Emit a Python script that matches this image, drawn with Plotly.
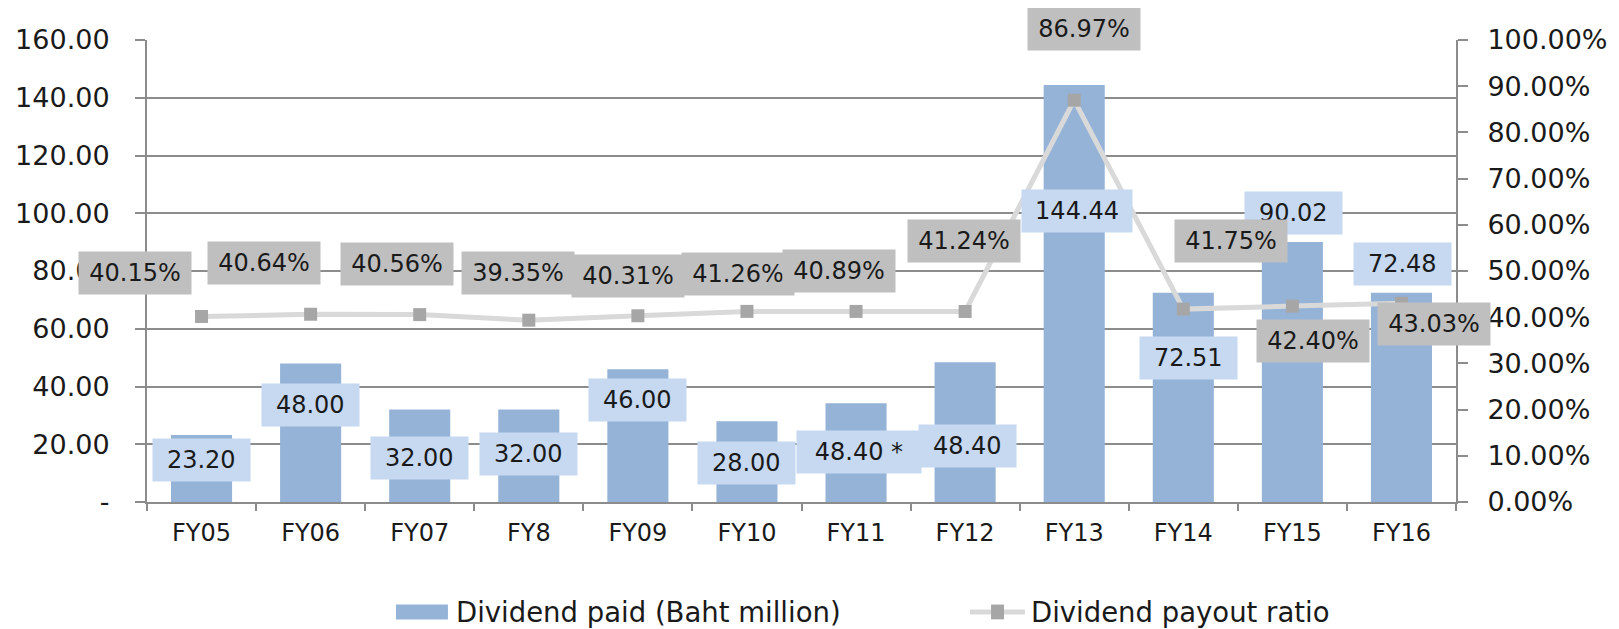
import plotly.graph_objects as go

# ---- data ----
categories = ["FY05", "FY06", "FY07", "FY8", "FY09", "FY10", "FY11", "FY12", "FY13", "FY14", "FY15", "FY16"]
dividend_paid = [23.20, 48.00, 32.00, 32.00, 46.00, 28.00, 34.20, 48.40, 144.44, 72.51, 90.02, 72.48]
dividend_labels = ["23.20", "48.00", "32.00", "32.00", "46.00", "28.00", "48.40 *", "48.40", "144.44", "72.51", "90.02", "72.48"]
payout_ratio = [40.15, 40.64, 40.56, 39.35, 40.31, 41.26, 41.25, 41.24, 86.97, 41.75, 42.40, 43.03]
payout_labels = ["40.15%", "40.64%", "40.56%", "39.35%", "40.31%", "41.26%", "40.89%", "41.24%", "86.97%", "41.75%", "42.40%", "43.03%"]
left_ticks = [0, 20, 40, 60, 80, 100, 120, 140, 160]
left_tick_text = ["-", "20.00", "40.00", "60.00", "80.00", "100.00", "120.00", "140.00", "160.00"]
right_ticks = [0, 10, 20, 30, 40, 50, 60, 70, 80, 90, 100]
right_tick_text = ["0.00%", "10.00%", "20.00%", "30.00%", "40.00%", "50.00%", "60.00%", "70.00%", "80.00%", "90.00%", "100.00%"]
series_names = ["Dividend paid (Baht million)", "Dividend payout ratio"]

# ---- label placement (pixel shifts from the data point) ----
bar_label_shift = [(0, -25), (0, -42), (0, -48), (0, -44), (0, -31), (0, -42),
                   (3, -49), (2, -84), (3, -126), (5, -65), (1, 29), (1, 29)]
ratio_label_shift = [(-67, 44), (-47, 51), (-23, 51), (-11, 47), (-10, 40), (-9, 37),
                     (-17, 40), (-1, 70), (10, 71), (48, 68), (21, -35), (33, -21)]

FONT = "DejaVu Sans, Verdana, sans-serif"
GRID = "#8C8C8C"
BAR_COLOR = "#95B3D7"
LINE_COLOR = "#D9D9D9"
MARKER_COLOR = "#A6A6A6"
TEXT = "#1A1A1A"

fig = go.Figure()
fig.add_trace(go.Bar(
    x=categories, y=dividend_paid, name=series_names[0],
    marker=dict(color=BAR_COLOR, line=dict(width=0)), width=0.56, yaxis="y",
))
fig.add_trace(go.Scatter(
    x=categories, y=payout_ratio, name=series_names[1], yaxis="y2",
    mode="lines+markers",
    line=dict(color=LINE_COLOR, width=5),
    marker=dict(symbol="square", size=13, color=MARKER_COLOR),
))

annotations = []
for c, v, t, (dx, dy) in zip(categories, dividend_paid, dividend_labels, bar_label_shift):
    annotations.append(dict(
        x=c, y=v, xref="x", yref="y", text=t, showarrow=False,
        xshift=dx, yshift=dy, bgcolor="#C6D9F1", borderpad=7,
        width=14 + 13.7 * len(t),
        font=dict(family=FONT, size=24, color=TEXT),
    ))
for c, v, t, (dx, dy) in zip(categories, payout_ratio, payout_labels, ratio_label_shift):
    annotations.append(dict(
        x=c, y=v, xref="x", yref="y2", text=t, showarrow=False,
        xshift=dx, yshift=dy, bgcolor="#BFBFBF", borderpad=7, width=98,
        font=dict(family=FONT, size=24, color=TEXT),
    ))

# ---- hand-drawn legend below the plot (paper coordinates) ----
legend_y = -0.238
shapes = [
    dict(type="rect", xref="paper", yref="paper", x0=0.1902, x1=0.2299,
         y0=legend_y - 0.0163, y1=legend_y + 0.0163,
         fillcolor=BAR_COLOR, line=dict(width=0)),
    dict(type="line", xref="paper", yref="paper", x0=0.6287, x1=0.6707, y0=legend_y, y1=legend_y,
         line=dict(color=LINE_COLOR, width=5)),
    dict(type="rect", xref="paper", yref="paper", x0=0.6448, x1=0.6547,
         y0=legend_y - 0.016, y1=legend_y + 0.016,
         fillcolor=MARKER_COLOR, line=dict(width=0)),
]
annotations.append(dict(x=0.2345, y=legend_y, xref="paper", yref="paper", xanchor="left", yanchor="middle",
                        text=series_names[0], showarrow=False, font=dict(family=FONT, size=27.5, color=TEXT)))
annotations.append(dict(x=0.6740, y=legend_y, xref="paper", yref="paper", xanchor="left", yanchor="middle",
                        text=series_names[1], showarrow=False, font=dict(family=FONT, size=27.5, color=TEXT)))

fig.update_layout(
    width=1611, height=621,
    margin=dict(l=139, r=163, t=32, b=127, autoexpand=False),
    paper_bgcolor="white", plot_bgcolor="white",
    font=dict(family=FONT, color=TEXT),
    bargap=0.44,
    showlegend=False,
    xaxis=dict(
        type="category", categoryorder="array", categoryarray=categories,
        range=[-0.5, len(categories) - 0.5],
        showgrid=False, showline=True, linecolor=GRID, linewidth=2,
        ticks="outside", tickson="boundaries", ticklen=7, tickcolor=GRID, tickwidth=2,
        tickfont=dict(family=FONT, size=24, color=TEXT), ticklabelstandoff=8,
    ),
    yaxis=dict(
        range=[0, 160], tickvals=left_ticks, ticktext=left_tick_text,
        showgrid=True, gridcolor=GRID, gridwidth=1.5, zeroline=False,
        showline=True, linecolor=GRID, linewidth=2,
        ticks="outside", ticklen=10, tickcolor=GRID, tickwidth=2,
        tickfont=dict(family=FONT, size=27, color=TEXT), ticklabelstandoff=20,
    ),
    yaxis2=dict(
        range=[0, 100], tickvals=right_ticks, ticktext=right_tick_text,
        overlaying="y", side="right", showgrid=False, zeroline=False,
        showline=True, linecolor=GRID, linewidth=2,
        ticks="outside", ticklen=10, tickcolor=GRID, tickwidth=2,
        tickfont=dict(family=FONT, size=27, color=TEXT), ticklabelstandoff=14,
    ),
    shapes=shapes,
    annotations=annotations,
)

fig.write_html("out.html")
